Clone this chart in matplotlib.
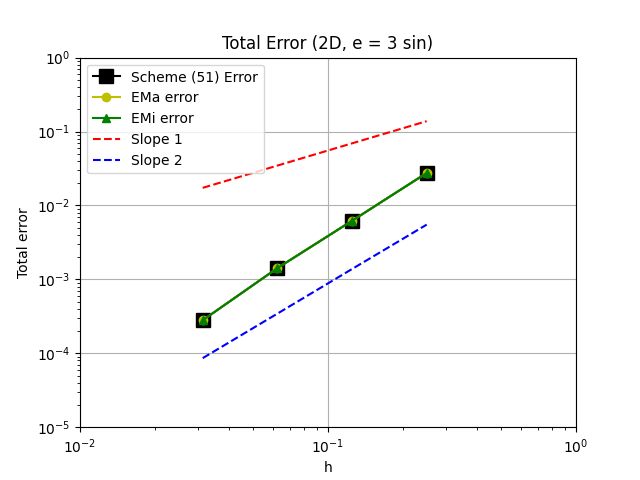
import matplotlib
matplotlib.use("Agg")
import matplotlib.pyplot as plt

h = [1/32, 1/16, 1/8, 1/4]
scheme_err = [2.8e-4, 1.42e-3, 6.2e-3, 2.75e-2]
ema_err = [2.8e-4, 1.42e-3, 6.2e-3, 2.75e-2]
emi_err = [2.8e-4, 1.42e-3, 6.2e-3, 2.75e-2]
slope1 = [0.0173, 0.0346, 0.0692, 0.138]
slope2 = [8.6e-5, 3.44e-4, 1.38e-3, 5.5e-3]

fig, ax = plt.subplots(figsize=(6.4, 4.8), dpi=100)
ax.loglog(h, scheme_err, 'ks-', markersize=10, label='Scheme (51) Error')
ax.loglog(h, ema_err, 'yo-', label='EMa error')
ax.loglog(h, emi_err, 'g^-', label='EMi error')
ax.loglog(h, slope1, 'r--', label='Slope 1')
ax.loglog(h, slope2, 'b--', label='Slope 2')

ax.set_xlim(1e-2, 1e0)
ax.set_ylim(1e-5, 1e0)
ax.set_xlabel('h')
ax.set_ylabel('Total error')
ax.set_title('Total Error (2D, e = 3 sin)')
ax.grid(True)
ax.legend(loc='upper left')
fig.savefig('out.png')
